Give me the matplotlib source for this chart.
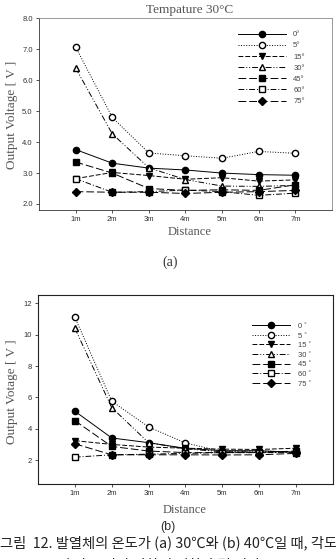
import matplotlib
matplotlib.use("Agg")
import matplotlib.pyplot as plt

plt.rcParams['font.family'] = ['Liberation Sans', 'DejaVu Sans']

# data
dist = [1, 2, 3, 4, 5, 6, 7]
dist_labels = ["1m", "2m", "3m", "4m", "5m", "6m", "7m"]
angles = ["0", "5", "15", "30", "45", "60", "75"]

# (a) 30 C
v30_0 = [3.76, 3.32, 3.16, 3.10, 3.00, 2.95, 2.93]
v30_5 = [7.08, 4.80, 3.65, 3.56, 3.48, 3.70, 3.64]
v30_15 = [2.82, 3.02, 2.92, 2.80, 2.85, 2.74, 2.78]
v30_30 = [6.40, 4.27, 3.17, 2.79, 2.58, 2.57, 2.60]
v30_45 = [3.36, 3.00, 2.50, 2.44, 2.46, 2.44, 2.62]
v30_60 = [2.82, 2.38, 2.40, 2.45, 2.40, 2.28, 2.35]
v30_75 = [2.40, 2.38, 2.38, 2.34, 2.38, 2.40, 2.44]

# (b) 40 C
v40_0 = [5.13, 3.43, 3.13, 2.77, 2.62, 2.62, 2.51]
v40_5 = [11.10, 5.77, 4.13, 3.11, 2.57, 2.60, 2.55]
v40_15 = [3.26, 3.02, 2.85, 2.78, 2.72, 2.70, 2.78]
v40_30 = [10.40, 5.36, 3.13, 2.74, 2.55, 2.55, 2.55]
v40_45 = [4.53, 2.89, 2.60, 2.50, 2.50, 2.50, 2.60]
v40_60 = [2.21, 2.36, 2.40, 2.45, 2.50, 2.50, 2.50]
v40_75 = [3.06, 2.36, 2.36, 2.36, 2.35, 2.36, 2.45]

# styles: (linestyle, marker, fill)
styles = [
    ("-", "o", "black"),
    (":", "o", "white"),
    ((0, (5, 2)), "v", "black"),
    ((0, (6, 2, 1, 2, 1, 2)), "^", "white"),
    ((0, (8, 3)), "s", "black"),
    ((0, (6, 2, 1, 2)), "s", "white"),
    ((0, (8, 3)), "D", "black"),
]

serif = "Liberation Serif"
sans = "Liberation Sans"
gray = "#555555"
kr = ["Noto Sans CJK KR", "DejaVu Sans"]

fig = plt.figure(figsize=(3.36, 5.59), dpi=100)


def draw(ax, series, ylim, yticks, yfmt, deg, leg_xy, hlen, lspace):
    for vals, ang, (ls, mk, fc) in zip(series, angles, styles):
        ax.plot(dist, vals, linestyle=ls, marker=mk, color="black",
                markerfacecolor=fc, markeredgecolor="black",
                markersize=4.5 if mk != "D" else 3.8, linewidth=0.7,
                label=ang + deg)
    ax.set_xlim(0, 8)
    ax.set_ylim(*ylim)
    ax.set_xticks(dist)
    ax.set_xticklabels(dist_labels)
    ax.set_yticks(yticks)
    ax.set_yticklabels([yfmt.format(t) for t in yticks])
    ax.tick_params(labelsize=5.5, length=2.5, width=0.6, colors="#333333",
                   direction="out", pad=2)
    leg = ax.legend(loc="upper left", bbox_to_anchor=leg_xy,
                    frameon=False, handlelength=hlen, borderaxespad=0,
                    borderpad=0, labelspacing=lspace, handletextpad=1.0,
                    prop={"family": sans, "size": 5.5})
    for t in leg.get_texts():
        t.set_color("#444444")


ax1 = fig.add_axes([0.116, 0.624, 0.872, 0.343])
draw(ax1, [v30_0, v30_5, v30_15, v30_30, v30_45, v30_60, v30_75],
     (1.8, 8.0), [2.0, 3.0, 4.0, 5.0, 6.0, 7.0, 8.0], "{:.1f}", "°",
     (0.68, 0.935), 6.2, 0.5)
for s in ax1.spines.values():
    s.set_color("#888888")
    s.set_linewidth(0.6)
ax1.spines["left"].set_color("#333333")
ax1.spines["bottom"].set_color("#333333")

ax2 = fig.add_axes([0.113, 0.134, 0.878, 0.338])
draw(ax2, [v40_0, v40_5, v40_15, v40_30, v40_45, v40_60, v40_75],
     (0.5, 12.5), [2, 4, 6, 8, 10, 12], "{:d}", " ˚",
     (0.725, 0.855), 5.0, 0.3)
for s in ax2.spines.values():
    s.set_color("#222222")
    s.set_linewidth(0.8)

fig.text(0.565, 0.982, "Tempature 30°C", ha="center", va="center",
         fontsize=9.5, family=serif, color=gray)
fig.text(0.036, 0.795, "Output Voltage [ V ]", rotation=90, ha="center",
         va="center", fontsize=9.5, family=serif, color=gray)
fig.text(0.565, 0.585, "Distance", ha="center", va="center",
         fontsize=9, family=serif, color=gray)
fig.text(0.506, 0.531, "(a)", ha="center", va="center",
         fontsize=10, family=serif, color="#333333")

fig.text(0.036, 0.30, "Output Votage [ V ]", rotation=90, ha="center",
         va="center", fontsize=9.5, family=serif, color=gray)
fig.text(0.55, 0.088, "Distance", ha="center", va="center",
         fontsize=9, family=serif, color=gray)
fig.text(0.5, 0.057, "(b)", ha="center", va="center",
         fontsize=9, family=sans, color="#333333")
fig.text(0.0, 0.029, "그림  12. 발열체의 온도가 (a) 30℃와 (b) 40℃일 때, 각도",
         ha="left", va="center", fontsize=10.3, family=kr, color="#222222")
# second caption line is cut by the bottom edge, as in the source
fig.text(0.17, -0.013, "에 따른 거리 변화에 대한 출력 전압",
         ha="left", va="center", fontsize=10.3, family=kr, color="#222222")

fig.savefig("out.png", dpi=100)
